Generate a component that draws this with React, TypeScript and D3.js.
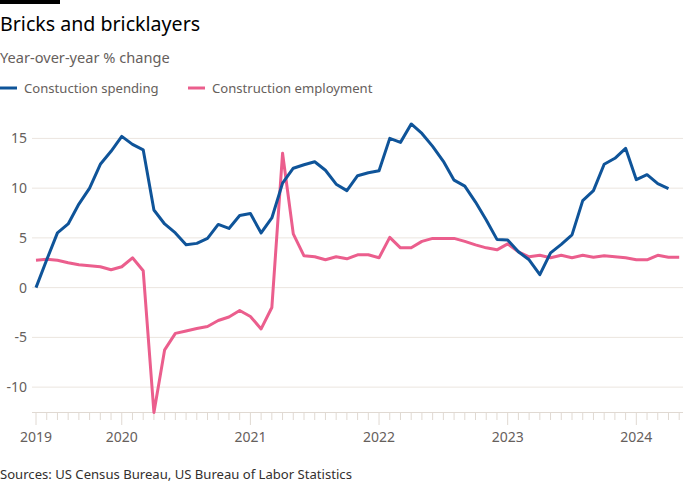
import React from "react";
import * as d3 from "d3";

const months: string[] = d3.range(0, 61).map((i) => {
  const d = new Date(Date.UTC(2019, 4 + i, 1));
  return d3.utcFormat("%Y-%m")(d);
});

const spending: number[] = [
  0.0, 2.8, 5.5, 6.4, 8.4, 10.0, 12.4, 13.7, 15.2, 14.4, 13.85,
  7.8, 6.4, 5.5, 4.3, 4.45, 4.95, 6.35, 5.95, 7.25, 7.45, 5.5,
  7.0, 10.5, 12.0, 12.35, 12.65, 11.8, 10.4, 9.75, 11.25, 11.55, 11.75,
  15.0, 14.6, 16.45, 15.5, 14.2, 12.7, 10.8, 10.2, 8.6, 6.8,
  4.85, 4.8, 3.6, 2.8, 1.3, 3.5, 4.35, 5.3, 8.75,
  9.75, 12.4, 13.0, 14.0, 10.85, 11.35, 10.45, 9.95,
];

const employment: number[] = [
  2.75, 2.85, 2.75, 2.5, 2.3, 2.2, 2.1, 1.8, 2.1, 3.0, 1.7,
  -12.55, -6.25, -4.6, -4.35, -4.1, -3.9, -3.3, -2.95, -2.3, -2.9, -4.15,
  -2.0, 13.5, 5.4, 3.2, 3.1, 2.8, 3.1, 2.9, 3.3, 3.3, 3.0,
  5.05, 4.0, 4.0, 4.65, 4.95, 4.95, 4.95, 4.65, 4.3, 4.0,
  3.8, 4.4, 3.6, 3.1, 3.25, 3.0, 3.25, 3.0, 3.25,
  3.05, 3.2, 3.1, 3.0, 2.8, 2.8, 3.25, 3.05, 3.05,
];

const yTicks: number[] = [-10, -5, 0, 5, 10, 15];
const xTickLabels: string[] = ["2019", "2020", "2021", "2022", "2023", "2024"];
const xTickMonths: string[] = ["2019-05", "2020-01", "2021-01", "2022-01", "2023-01", "2024-01"];

const seriesNames = ["Constuction spending", "Construction employment"];
const colors = ["#0f5499", "#eb5e8d"];

export default function App() {
  const W = 700;
  const H = 500;
  const x = d3.scaleLinear().domain([0, months.length - 1]).range([36, 679.2]);
  const y = d3.scaleLinear().domain([-12.5, 17]).range([412, 118.5]);
  const font = "'Noto Sans', sans-serif";
  const line = d3
    .line<number>()
    .x((_, i) => x(i))
    .y((d) => y(d));

  const gridX0 = 32;
  const gridX1 = 683;

  return (
    <svg
      width={W}
      height={H}
      style={{ position: "absolute", left: 0, top: 0, display: "block", background: "#fff" }}
      fontFamily={font}
    >
      <rect x={0} y={0} width={60} height={4} fill="#000" />
      <text x={0} y={31} fontSize={19.6} fill="#000">
        Bricks and bricklayers
      </text>
      <text x={0} y={63} fontSize={14.6} fill="#66605c">
        Year-over-year % change
      </text>
      {/* legend */}
      <line x1={0} x2={17} y1={88} y2={88} stroke={colors[0]} strokeWidth={3} />
      <text x={24} y={93} fontSize={13.1} fill="#66605c">
        {seriesNames[0]}
      </text>
      <line x1={188} x2={205} y1={88} y2={88} stroke={colors[1]} strokeWidth={3} />
      <text x={212} y={93} fontSize={13.1} fill="#66605c">
        {seriesNames[1]}
      </text>

      {/* gridlines */}
      {yTicks.map((t) => (
        <g key={t}>
          <line x1={gridX0} x2={gridX1} y1={y(t)} y2={y(t)} stroke="#ebe5df" strokeWidth={1} />
          <text x={27} y={y(t) + 5} fontSize={14} fill="#66605c" textAnchor="end">
            {t}
          </text>
        </g>
      ))}

      {/* x axis */}
      <line x1={gridX0} x2={gridX1} y1={412.5} y2={412.5} stroke="#e0d9d2" strokeWidth={1} />
      {months.map((m, i) => {
        const major = xTickMonths.includes(m);
        return (
          <line
            key={m}
            x1={x(i)}
            x2={x(i)}
            y1={412}
            y2={major ? 425 : 420}
            stroke="#e0d9d2"
            strokeWidth={1}
          />
        );
      })}
      {xTickMonths.map((m, k) => (
        <text key={m} x={x(months.indexOf(m))} y={442} fontSize={14} fill="#66605c" textAnchor="middle">
          {xTickLabels[k]}
        </text>
      ))}

      {/* lines */}
      <path d={line(employment) || ""} fill="none" stroke={colors[1]} strokeWidth={3} strokeLinejoin="round" />
      <path d={line(spending) || ""} fill="none" stroke={colors[0]} strokeWidth={3} strokeLinejoin="round" />

      <text x={0} y={479} fontSize={13.1} fill="#33302e" fontFamily="'Liberation Sans Narrow', 'Noto Sans', sans-serif">
        Sources: US Census Bureau, US Bureau of Labor Statistics
      </text>
    </svg>
  );
}
